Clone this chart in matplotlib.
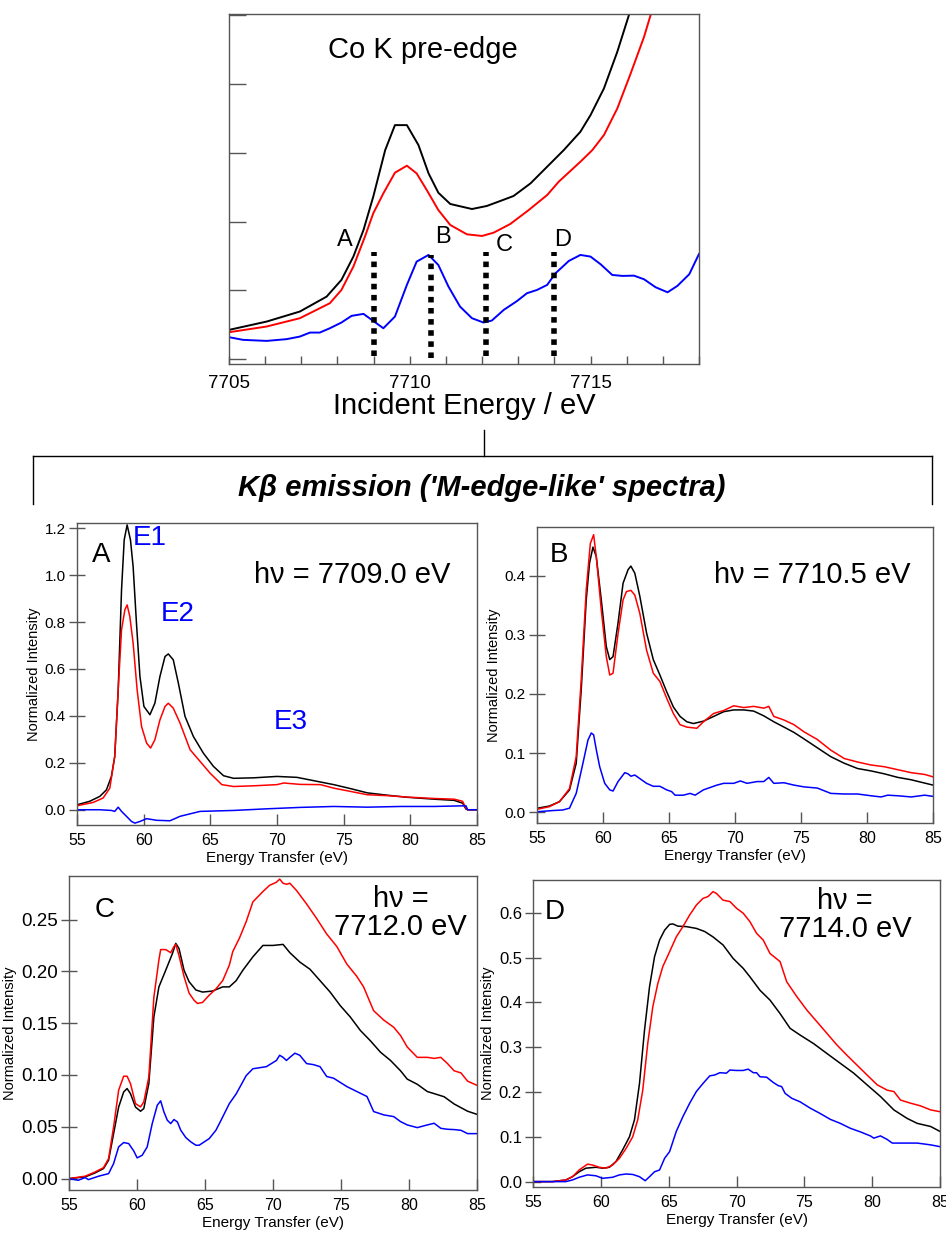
import matplotlib
matplotlib.use("Agg")
import matplotlib.pyplot as plt
from matplotlib.lines import Line2D
from matplotlib.ticker import MultipleLocator, FormatStrFormatter

plt.rcParams['font.family'] = ['Liberation Sans', 'DejaVu Sans']

# ---- Co K pre-edge (incident energy scan) ----
pe_black_x = [7705.0, 7706.04, 7706.96, 7707.70, 7708.11, 7708.44, 7708.72, 7708.99, 7709.32, 7709.59,
              7709.92, 7710.24, 7710.52, 7710.79, 7711.12, 7711.72, 7712.13, 7712.50, 7712.87, 7713.34,
              7713.80, 7714.26, 7714.72, 7715.00, 7715.37, 7715.74, 7716.06]
pe_black_y = [0.426, 0.547, 0.693, 0.910, 1.153, 1.492, 1.879, 2.363, 3.041, 3.404,
              3.404, 3.114, 2.702, 2.421, 2.257, 2.184, 2.228, 2.300, 2.373, 2.557,
              2.799, 3.041, 3.308, 3.550, 3.937, 4.470, 5.002]
pe_red_x = [7705.0, 7706.04, 7706.96, 7707.79, 7708.11, 7708.44, 7708.76, 7708.99, 7709.27, 7709.59,
            7709.92, 7710.19, 7710.47, 7710.79, 7711.12, 7711.58, 7712.00, 7712.32, 7712.78, 7713.29,
            7713.80, 7714.12, 7714.72, 7715.05, 7715.37, 7715.74, 7716.11, 7716.48, 7716.66]
pe_red_y = [0.392, 0.475, 0.596, 0.814, 1.007, 1.346, 1.782, 2.121, 2.412, 2.712,
            2.814, 2.702, 2.460, 2.169, 1.952, 1.816, 1.792, 1.840, 1.966, 2.169,
            2.387, 2.581, 2.872, 3.041, 3.259, 3.646, 4.155, 4.688, 5.002]
pe_blue_x = [7705.00, 7705.39, 7706.04, 7706.59, 7706.96, 7707.24, 7707.51, 7707.79, 7708.11, 7708.39,
             7708.72, 7708.95, 7709.27, 7709.59, 7709.92, 7710.19, 7710.52, 7710.79, 7711.07, 7711.39,
             7711.72, 7712.04, 7712.27, 7712.60, 7712.97, 7713.24, 7713.52, 7713.80, 7714.03, 7714.40,
             7714.72, 7715.00, 7715.28, 7715.60, 7715.88, 7716.20, 7716.48, 7716.80, 7717.13, 7717.40,
             7717.73, 7718.00]
pe_blue_y = [0.320, 0.281, 0.266, 0.291, 0.329, 0.387, 0.387, 0.450, 0.533, 0.630,
             0.659, 0.571, 0.450, 0.620, 1.080, 1.419, 1.516, 1.370, 1.056, 0.765,
             0.596, 0.533, 0.562, 0.717, 0.847, 0.959, 1.007, 1.080, 1.249, 1.429,
             1.516, 1.492, 1.380, 1.225, 1.211, 1.215, 1.162, 1.046, 0.973, 1.065,
             1.235, 1.530]

# excitation energies marked on the pre-edge
cut_labels = ['A', 'B', 'C', 'D']
cut_energy = [7709.0, 7710.6, 7712.1, 7714.0]
cut_top = [1.56, 1.52, 1.56, 1.56]
cut_bottom = [0.05, 0.02, 0.05, 0.05]
cut_label_x = [7708.2, 7710.93, 7712.6, 7714.24]
cut_label_y = [1.73, 1.78, 1.66, 1.74]

# ---- Kbeta emission spectra at each excitation energy ----
a_black_x = [55.0, 55.95, 56.71, 57.21, 57.58, 57.83, 58.09, 58.34, 58.54, 58.76, 59.01, 59.21, 59.46,
             59.72, 60.02, 60.47, 60.84, 61.22, 61.60, 61.85, 62.22, 62.60, 63.10, 63.73, 64.48, 65.23,
             65.99, 66.74, 68.24, 70.00, 71.50, 73.01, 74.26, 75.52, 76.77, 78.28, 79.78, 81.79, 83.29,
             83.92, 84.17, 84.30, 85.0]
a_black_y = [0.021, 0.036, 0.057, 0.085, 0.142, 0.227, 0.511, 0.937, 1.150, 1.214, 1.150, 1.036, 0.795,
             0.568, 0.440, 0.405, 0.454, 0.568, 0.653, 0.664, 0.639, 0.540, 0.398, 0.312, 0.241, 0.185,
             0.145, 0.134, 0.136, 0.142, 0.138, 0.121, 0.107, 0.090, 0.072, 0.062, 0.053, 0.045, 0.040,
             0.028, 0.003, 0.0, 0.0]
a_red_x = [55.0, 56.20, 56.96, 57.46, 57.83, 58.09, 58.34, 58.59, 58.76, 58.96, 59.21, 59.51, 59.84,
           60.22, 60.52, 60.84, 61.22, 61.60, 61.85, 62.22, 62.73, 63.48, 64.23, 64.98, 65.86, 66.74,
           68.24, 70.00, 70.50, 71.75, 73.26, 74.26, 75.52, 76.77, 78.28, 79.78, 81.79, 83.29, 83.92,
           84.17, 84.30, 85.0]
a_red_y = [0.017, 0.031, 0.050, 0.092, 0.227, 0.511, 0.767, 0.852, 0.873, 0.824, 0.710, 0.511, 0.355,
           0.284, 0.263, 0.298, 0.383, 0.440, 0.454, 0.433, 0.369, 0.256, 0.206, 0.156, 0.107, 0.099,
           0.102, 0.107, 0.114, 0.108, 0.107, 0.092, 0.078, 0.064, 0.060, 0.054, 0.048, 0.045, 0.036,
           0.007, 0.0, 0.0]
a_blue_x = [55.0, 56.71, 57.58, 57.83, 58.09, 58.34, 58.71, 59.09, 59.34, 59.72, 60.22, 60.97, 61.97,
            62.73, 64.23, 66.74, 69.25, 71.75, 74.26, 76.77, 79.28, 81.79, 84.17, 84.30, 85.0]
a_blue_y = [0.0, 0.0, -0.003, -0.007, 0.011, -0.007, -0.028, -0.050, -0.057, -0.050, -0.038, -0.045,
            -0.047, -0.028, -0.007, -0.003, 0.004, 0.010, 0.014, 0.011, 0.014, 0.014, 0.017, 0.0, 0.0]

b_black_x = [55.0, 55.94, 56.70, 57.46, 57.97, 58.35, 58.73, 58.98, 59.24, 59.49, 59.87, 60.25, 60.51,
             60.76, 61.14, 61.52, 61.90, 62.11, 62.41, 62.79, 63.30, 63.81, 64.31, 64.82, 65.33, 65.84,
             66.35, 66.85, 67.61, 68.38, 69.14, 69.90, 70.66, 71.42, 72.18, 72.94, 73.71, 74.47, 75.23,
             76.24, 77.26, 78.27, 79.29, 80.30, 81.32, 82.34, 83.35, 85.0]
b_black_y = [0.0068, 0.0107, 0.018, 0.0377, 0.0828, 0.207, 0.359, 0.421, 0.448, 0.432, 0.359, 0.280,
             0.258, 0.263, 0.320, 0.387, 0.410, 0.416, 0.404, 0.365, 0.303, 0.258, 0.232, 0.204, 0.178,
             0.162, 0.153, 0.150, 0.154, 0.162, 0.170, 0.173, 0.173, 0.171, 0.163, 0.153, 0.144, 0.135,
             0.124, 0.109, 0.094, 0.083, 0.074, 0.070, 0.065, 0.059, 0.055, 0.046]
b_red_x = [55.0, 55.94, 56.70, 57.46, 57.97, 58.35, 58.73, 59.04, 59.29, 59.49, 59.87, 60.25, 60.51,
           60.76, 61.14, 61.52, 61.78, 62.11, 62.41, 62.79, 63.30, 63.81, 64.31, 64.82, 65.33, 65.84,
           66.35, 67.11, 67.61, 68.38, 69.14, 69.90, 70.66, 71.42, 72.18, 72.56, 72.94, 73.71, 74.47,
           75.23, 76.24, 77.26, 78.27, 79.29, 80.30, 81.32, 82.34, 83.35, 84.37, 85.0]
b_red_y = [0.0051, 0.0096, 0.018, 0.040, 0.094, 0.224, 0.376, 0.454, 0.469, 0.432, 0.342, 0.263,
           0.232, 0.235, 0.302, 0.359, 0.373, 0.375, 0.367, 0.336, 0.274, 0.235, 0.221, 0.193, 0.167,
           0.148, 0.144, 0.142, 0.153, 0.167, 0.172, 0.180, 0.177, 0.179, 0.176, 0.179, 0.162, 0.156,
           0.148, 0.136, 0.123, 0.105, 0.091, 0.085, 0.080, 0.077, 0.072, 0.067, 0.064, 0.060]
b_blue_x = [55.0, 56.19, 56.95, 57.46, 57.97, 58.48, 58.86, 59.11, 59.29, 59.49, 59.75, 60.13, 60.51,
            60.76, 61.14, 61.65, 61.90, 62.11, 62.41, 62.79, 63.30, 63.81, 64.31, 64.82, 65.20, 65.46,
            66.09, 66.60, 66.98, 67.61, 68.12, 68.63, 69.14, 69.90, 70.41, 70.91, 71.68, 72.18, 72.56,
            72.94, 73.71, 74.47, 75.23, 76.24, 77.26, 78.27, 79.29, 80.30, 81.07, 81.57, 82.34, 83.35,
            84.37, 85.0]
b_blue_y = [0.001, 0.003, 0.004, 0.007, 0.032, 0.083, 0.122, 0.134, 0.131, 0.106, 0.077, 0.049, 0.038,
            0.036, 0.052, 0.067, 0.065, 0.061, 0.063, 0.057, 0.049, 0.044, 0.044, 0.038, 0.035, 0.029,
            0.029, 0.032, 0.029, 0.038, 0.042, 0.046, 0.049, 0.049, 0.053, 0.049, 0.052, 0.052, 0.059,
            0.049, 0.050, 0.046, 0.043, 0.041, 0.032, 0.031, 0.031, 0.028, 0.026, 0.029, 0.028, 0.026,
            0.029, 0.027]

c_black_x = [55.0, 56.18, 56.92, 57.54, 57.91, 58.28, 58.65, 59.02, 59.27, 59.52, 59.89, 60.26, 60.50,
             60.87, 61.24, 61.61, 62.11, 62.60, 62.85, 63.09, 63.46, 63.83, 64.33, 64.82, 65.56, 66.30,
             66.79, 67.29, 67.78, 68.52, 69.26, 70.00, 70.74, 71.24, 71.97, 72.72, 73.46, 74.20, 74.94,
             75.68, 76.42, 77.16, 77.90, 78.64, 79.38, 79.87, 80.61, 81.35, 81.85, 82.58, 83.32, 84.31,
             85.0]
c_black_y = [0.0, 0.0016, 0.0055, 0.0097, 0.0177, 0.0434, 0.069, 0.0836, 0.0869, 0.082, 0.069, 0.065,
             0.0676, 0.0917, 0.156, 0.185, 0.201, 0.217, 0.227, 0.222, 0.201, 0.190, 0.182, 0.180, 0.181,
             0.185, 0.185, 0.191, 0.201, 0.214, 0.225, 0.225, 0.226, 0.218, 0.209, 0.202, 0.191, 0.180,
             0.167, 0.156, 0.143, 0.133, 0.122, 0.114, 0.104, 0.096, 0.091, 0.084, 0.082, 0.079, 0.072,
             0.065, 0.062]
c_red_x = [55.0, 56.18, 56.92, 57.54, 57.91, 58.28, 58.65, 59.02, 59.27, 59.52, 59.89, 60.26, 60.50,
           60.87, 61.24, 61.61, 61.74, 62.11, 62.48, 62.72, 62.85, 63.09, 63.46, 63.83, 64.20, 64.45,
           64.82, 65.31, 65.80, 66.30, 66.79, 67.04, 67.53, 68.03, 68.52, 68.89, 69.26, 69.75, 70.25,
           70.49, 70.74, 70.99, 71.24, 71.73, 72.47, 73.21, 73.95, 74.69, 75.43, 76.17, 76.66, 77.40,
           78.14, 78.88, 79.38, 79.87, 80.61, 81.35, 81.85, 82.34, 82.83, 83.32, 83.82, 84.31, 85.0]
c_red_y = [0.0, 0.0023, 0.0064, 0.0106, 0.0193, 0.0499, 0.0853, 0.0988, 0.0988, 0.0917, 0.0724, 0.0692,
           0.074, 0.0981, 0.175, 0.211, 0.221, 0.221, 0.218, 0.224, 0.226, 0.215, 0.195, 0.179, 0.172,
           0.169, 0.170, 0.177, 0.183, 0.191, 0.206, 0.219, 0.232, 0.248, 0.267, 0.272, 0.277, 0.283,
           0.286, 0.289, 0.285, 0.284, 0.285, 0.278, 0.265, 0.251, 0.236, 0.224, 0.207, 0.195, 0.185,
           0.162, 0.153, 0.146, 0.138, 0.127, 0.117, 0.117, 0.116, 0.117, 0.111, 0.104, 0.102, 0.094,
           0.090]
c_blue_x = [55.0, 55.69, 56.18, 56.43, 57.17, 57.91, 58.28, 58.65, 59.02, 59.39, 59.76, 60.01, 60.38,
            60.75, 61.12, 61.49, 61.74, 61.98, 62.23, 62.48, 62.72, 62.97, 63.22, 63.59, 63.96, 64.33,
            64.57, 64.94, 65.31, 65.80, 66.18, 66.79, 67.29, 68.03, 68.52, 69.01, 69.51, 70.25, 70.49,
            70.74, 70.99, 71.24, 71.61, 71.97, 72.47, 72.97, 73.46, 73.95, 74.45, 75.43, 76.17, 76.91,
            77.40, 78.14, 78.88, 79.38, 79.87, 80.61, 81.35, 81.85, 82.34, 82.83, 83.32, 83.82, 84.31,
            85.0]
c_blue_y = [0.0, -0.0016, 0.001, -0.001, 0.0023, 0.0048, 0.0145, 0.0306, 0.0348, 0.0338, 0.0267, 0.020,
            0.0225, 0.0306, 0.0531, 0.0708, 0.075, 0.0643, 0.0563, 0.0531, 0.057, 0.0547, 0.0466, 0.0396,
            0.0354, 0.0322, 0.0322, 0.0354, 0.0386, 0.0466, 0.0563, 0.0724, 0.0817, 0.0994, 0.106, 0.107,
            0.108, 0.114, 0.119, 0.117, 0.114, 0.117, 0.121, 0.119, 0.111, 0.110, 0.108, 0.0985, 0.0969,
            0.0888, 0.084, 0.0792, 0.0647, 0.0615, 0.0598, 0.055, 0.0518, 0.0492, 0.0518, 0.0534, 0.0485,
            0.0476, 0.0473, 0.0466, 0.0434, 0.0434]

d_black_x = [55.0, 56.43, 57.42, 57.91, 58.40, 58.90, 59.64, 60.13, 60.63, 61.12, 61.61, 62.11, 62.48,
             62.85, 63.22, 63.59, 63.96, 64.33, 64.70, 65.07, 65.31, 65.68, 66.30, 67.04, 67.66, 68.27,
             69.01, 69.75, 70.49, 70.99, 71.73, 72.47, 73.21, 73.95, 74.69, 75.68, 76.66, 77.65, 78.64,
             79.62, 80.61, 81.60, 82.58, 83.32, 84.31, 85.0]
d_black_y = [0.0, 0.0, 0.0037, 0.011, 0.022, 0.030, 0.032, 0.030, 0.032, 0.045, 0.071, 0.100, 0.138,
             0.219, 0.338, 0.435, 0.502, 0.539, 0.561, 0.574, 0.575, 0.570, 0.569, 0.565, 0.558, 0.546,
             0.528, 0.498, 0.476, 0.457, 0.427, 0.405, 0.375, 0.342, 0.327, 0.308, 0.286, 0.264, 0.242,
             0.216, 0.190, 0.160, 0.141, 0.130, 0.123, 0.112]
d_red_x = [55.0, 56.43, 57.42, 57.91, 58.40, 59.02, 59.39, 59.89, 60.38, 60.87, 61.37, 61.86, 62.35,
           62.72, 63.09, 63.46, 63.83, 64.20, 64.57, 65.07, 65.56, 66.05, 66.55, 67.04, 67.53, 67.90,
           68.27, 68.52, 69.01, 69.51, 70.00, 70.49, 70.99, 71.48, 71.97, 72.47, 73.21, 73.70, 74.44,
           75.18, 75.92, 76.66, 77.40, 78.14, 78.88, 79.62, 80.37, 81.11, 81.60, 82.09, 82.83, 83.57,
           84.31, 85.0]
d_red_y = [0.0, 0.0, 0.0037, 0.011, 0.026, 0.039, 0.037, 0.032, 0.030, 0.037, 0.052, 0.074, 0.100,
           0.138, 0.204, 0.309, 0.390, 0.442, 0.480, 0.513, 0.546, 0.569, 0.595, 0.617, 0.632, 0.636,
           0.647, 0.643, 0.628, 0.625, 0.610, 0.599, 0.580, 0.554, 0.539, 0.509, 0.491, 0.446, 0.413,
           0.383, 0.357, 0.331, 0.305, 0.282, 0.260, 0.238, 0.216, 0.204, 0.201, 0.182, 0.175, 0.169,
           0.160, 0.156]
d_blue_x = [55.0, 57.42, 57.91, 58.40, 59.02, 59.64, 60.13, 60.87, 61.37, 61.86, 62.35, 62.85, 63.27,
            63.59, 63.96, 64.33, 64.70, 65.07, 65.56, 66.05, 66.55, 67.04, 67.53, 68.03, 68.40, 68.77,
            69.26, 69.51, 70.00, 70.49, 70.86, 71.24, 71.48, 71.73, 72.22, 72.72, 73.09, 73.33, 73.58,
            74.07, 74.69, 75.43, 76.17, 76.91, 77.65, 78.39, 79.13, 79.87, 80.12, 80.61, 81.11, 81.48,
            82.34, 83.32, 84.31, 85.0]
d_blue_y = [0.0, 0.0, 0.0037, 0.0097, 0.015, 0.013, 0.0074, 0.0097, 0.015, 0.017, 0.016, 0.011, 0.002,
            0.011, 0.022, 0.026, 0.052, 0.067, 0.112, 0.145, 0.175, 0.201, 0.219, 0.236, 0.238, 0.243,
            0.242, 0.249, 0.248, 0.248, 0.251, 0.243, 0.243, 0.234, 0.233, 0.221, 0.214, 0.212, 0.197,
            0.186, 0.178, 0.164, 0.152, 0.139, 0.130, 0.119, 0.111, 0.102, 0.097, 0.102, 0.094, 0.086,
            0.086, 0.086, 0.082, 0.078]

W, H = 946, 1233
fig = plt.figure(figsize=(W / 100, H / 100), dpi=100)
SPINE = '#555555'


def box(left, top, right, bottom):
    # pixel box -> figure fraction rect
    return [left / W, 1 - bottom / H, (right - left) / W, (bottom - top) / H]


def fig_line(xs, ys, **kw):
    fig.add_artist(Line2D([x / W for x in xs], [1 - y / H for y in ys],
                          transform=fig.transFigure, color='black', lw=1.0, **kw))


# top panel: pre-edge
ax0 = fig.add_axes(box(229, 14, 699, 364))
ax0.plot(pe_black_x, pe_black_y, color='black', lw=1.4)
ax0.plot(pe_red_x, pe_red_y, color='red', lw=1.4)
ax0.plot(pe_blue_x, pe_blue_y, color='blue', lw=1.4)
for e, t, b in zip(cut_energy, cut_top, cut_bottom):
    ax0.plot([e, e], [b, t], color='black', lw=4.0, linestyle=(0, (1, 1)), solid_capstyle='butt')
for lab, lx, ly in zip(cut_labels, cut_label_x, cut_label_y):
    ax0.text(lx, ly, lab, fontsize=17, ha='center', va='center')
ax0.text(7710.35, 4.49, 'Co K pre-edge', fontsize=21, ha='center', va='center')
ax0.set_xlim(7705, 7718)
ax0.set_ylim(-0.07, 5.02)
ax0.xaxis.set_major_locator(MultipleLocator(5))
ax0.xaxis.set_minor_locator(MultipleLocator(1))
ax0.yaxis.set_major_locator(MultipleLocator(1))
ax0.tick_params(axis='x', which='both', direction='in', length=6, width=1.0, color=SPINE,
                labelsize=13.5, pad=8)
ax0.tick_params(axis='y', direction='in', length=12, width=1.0, color=SPINE, labelleft=False)
ax0.set_xlabel('Incident Energy / eV', fontsize=21, labelpad=0)
for s in ax0.spines.values():
    s.set_color(SPINE)
    s.set_linewidth(1.0)

# bracket joining the pre-edge to the emission panels
fig_line([484, 484], [430, 456])
fig_line([33, 932], [456, 456])
fig_line([33, 33], [456, 504])
fig_line([932, 932], [456, 504])
fig.text(482 / W, 1 - 488 / H, "K\u03b2 emission ('M-edge-like' spectra)",
         fontsize=21, fontweight='bold', fontstyle='italic', ha='center', va='center')

panels = [
    dict(rect=box(77, 523, 477, 825), ylim=(-0.065, 1.222), step=0.2, fmt='%.1f', ysize=11,
         series=[(a_black_x, a_black_y, 'black'), (a_red_x, a_red_y, 'red'), (a_blue_x, a_blue_y, 'blue')]),
    dict(rect=box(537, 527, 933, 823), ylim=(-0.018, 0.482), step=0.1, fmt='%.1f', ysize=11,
         series=[(b_black_x, b_black_y, 'black'), (b_red_x, b_red_y, 'red'), (b_blue_x, b_blue_y, 'blue')]),
    dict(rect=box(69, 876, 477, 1190), ylim=(-0.011, 0.292), step=0.05, fmt='%.2f', ysize=13.5,
         series=[(c_black_x, c_black_y, 'black'), (c_red_x, c_red_y, 'red'), (c_blue_x, c_blue_y, 'blue')]),
    dict(rect=box(533, 880, 940, 1187), ylim=(-0.012, 0.673), step=0.1, fmt='%.1f', ysize=12,
         series=[(d_black_x, d_black_y, 'black'), (d_red_x, d_red_y, 'red'), (d_blue_x, d_blue_y, 'blue')]),
]

axes = []
for p in panels:
    ax = fig.add_axes(p['rect'])
    for xs, ys, col in p['series']:
        ax.plot(xs, ys, color=col, lw=1.1)
    ax.set_xlim(55, 85)
    ax.set_ylim(*p['ylim'])
    ax.xaxis.set_major_locator(MultipleLocator(5))
    ax.yaxis.set_major_locator(MultipleLocator(p['step']))
    ax.yaxis.set_major_formatter(FormatStrFormatter(p['fmt']))
    ax.tick_params(axis='x', direction='in', length=8, width=1.0, color=SPINE, labelsize=11.5, pad=6)
    ax.tick_params(axis='y', direction='inout', length=12, width=1.0, color=SPINE,
                   labelsize=p['ysize'], pad=2)
    ax.set_xlabel('Energy Transfer (eV)', fontsize=11, labelpad=2)
    ax.set_ylabel('Normalized Intensity', fontsize=10.5, labelpad=3)
    for s in ax.spines.values():
        s.set_color(SPINE)
        s.set_linewidth(1.0)
    axes.append(ax)

axA, axB, axC, axD = axes
axA.text(56.83, 1.086, 'A', fontsize=20, ha='center', va='center')
axA.text(60.42, 1.157, 'E1', fontsize=20, color='blue', ha='center', va='center')
axA.text(62.52, 0.835, 'E2', fontsize=20, color='blue', ha='center', va='center')
axA.text(71.0, 0.372, 'E3', fontsize=20, color='blue', ha='center', va='center')
axA.text(75.64, 1.001, 'h\u03bd = 7709.0 eV', fontsize=21, ha='center', va='center')

axB.text(56.70, 0.434, 'B', fontsize=20, ha='center', va='center')
axB.text(75.86, 0.401, 'h\u03bd = 7710.5 eV', fontsize=21, ha='center', va='center')

axC.text(57.62, 0.259, 'C', fontsize=20, ha='center', va='center')
axC.text(79.4, 0.256, 'h\u03bd =\n7712.0 eV', fontsize=21, ha='center', va='center', linespacing=1.0)

axD.text(56.63, 0.602, 'D', fontsize=20, ha='center', va='center')
axD.text(78.0, 0.595, 'h\u03bd =\n7714.0 eV', fontsize=21, ha='center', va='center', linespacing=1.0)

fig.savefig('out.png', dpi=100)
